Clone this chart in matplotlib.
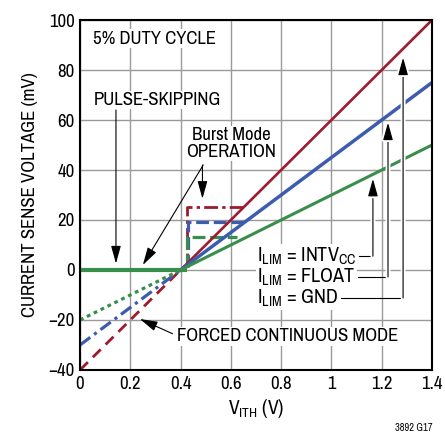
import matplotlib
matplotlib.use("Agg")
import matplotlib.pyplot as plt
import matplotlib.patheffects as pe

FONT = ['Archivo Narrow', 'Liberation Sans', 'DejaVu Sans']
plt.rcParams['font.family'] = FONT
plt.rcParams['mathtext.fontset'] = 'custom'
plt.rcParams['mathtext.rm'] = 'Archivo Narrow'
plt.rcParams['mathtext.it'] = 'Archivo Narrow'

RED = '#9e1b2e'
BLUE = '#3d5cae'
GREEN = '#3a8e4c'

# forced continuous (below 0.4 V) and normal (above) segments
x_lo = [0.0, 0.4]
red_lo = [-40, 0]
blue_lo = [-30, 0]
green_lo = [-20, 0]

x_hi = [0.4, 1.4]
red_hi = [0, 100]
blue_hi = [0, 75]
green_hi = [0, 50]

# pulse skipping flat part
skip_x = [0.0, 0.425]
skip_y = [0, 0]

# burst mode steps
red_burst_x = [0.425, 0.425, 0.655]
red_burst_y = [1, 25, 25]
blue_burst_x = [0.43, 0.43, 0.66]
blue_burst_y = [1, 19, 19]
green_burst_x = [0.425, 0.425, 0.625]
green_burst_y = [1, 13, 13]

xticks = [0, 0.2, 0.4, 0.6, 0.8, 1.0, 1.2, 1.4]
xticklabels = ['0', '0.2', '0.4', '0.6', '0.8', '1', '1.2', '1.4']
yticks = [-40, -20, 0, 20, 40, 60, 80, 100]
yticklabels = ['\u221240', '\u221220', '0', '20', '40', '60', '80', '100']

fig = plt.figure(figsize=(4.45, 4.38), dpi=100)
ax = fig.add_axes([0.1798, 0.1553, 0.791, 0.799])

ax.set_xlim(0, 1.4)
ax.set_ylim(-40, 100)
ax.set_xticks(xticks)
ax.set_xticklabels(xticklabels)
ax.set_yticks(yticks)
ax.set_yticklabels(yticklabels)
ax.tick_params(length=0, labelsize=13.5, pad=4)
ax.grid(True, color='#9a9a9a', lw=1.0)
ax.set_axisbelow(True)
for s in ax.spines.values():
    s.set_linewidth(1.5)
    s.set_zorder(10)

ax.set_xlabel('V$_{\\mathrm{ITH}}$ (V)', fontsize=14, labelpad=4)
ax.set_ylabel('CURRENT SENSE VOLTAGE (mV)', fontsize=13.5, labelpad=7)

# lower (dashed) parts
ax.plot(x_lo, red_lo, color=RED, lw=2, ls=(0, (4, 2.5)), zorder=3)
ax.plot(x_lo, blue_lo, color=BLUE, lw=2.3, ls=(0, (4, 1.5, 1, 1.5)), zorder=3)
ax.plot(x_lo, green_lo, color=GREEN, lw=2.3, ls=(0, (1.2, 1.2)), zorder=3)

# burst steps
ax.plot(red_burst_x, red_burst_y, color=RED, lw=2, ls=(0, (5, 1.5, 1.2, 1.5)), zorder=3)
ax.plot(blue_burst_x, blue_burst_y, color=BLUE, lw=2.3, ls=(0, (4, 1.5)), zorder=3)
ax.plot(green_burst_x, green_burst_y, color=GREEN, lw=2.3, ls=(0, (4, 1.5)), zorder=3)

# upper solid parts
ax.plot(x_hi, red_hi, color=RED, lw=1.9, zorder=4)
ax.plot(x_hi, blue_hi, color=BLUE, lw=2.5, zorder=4)
ax.plot(x_hi, green_hi, color=GREEN, lw=2.2, zorder=4)

ax.plot(skip_x, skip_y, color=GREEN, lw=3, zorder=5, solid_capstyle='butt')

box = dict(facecolor='white', edgecolor='none', pad=1)
tkw = dict(fontsize=13.5, bbox=box, zorder=6)

ax.text(0.052, 92.5, '5% DUTY CYCLE', ha='left', va='center', **tkw)
ax.text(0.055, 68, 'PULSE-SKIPPING', ha='left', va='center', **tkw)
ax.text(0.6, 50.5, 'Burst Mode\nOPERATION', ha='center', va='center',
        linespacing=1.05, **tkw)
ax.text(0.386, -26.5, 'FORCED CONTINUOUS MODE', ha='left', va='center', **tkw)

akw = dict(arrowstyle='-|>,head_length=0.9,head_width=0.25', color='black',
           lw=0.8, mutation_scale=12, shrinkA=0, shrinkB=0)
white = [pe.Stroke(linewidth=3.5, foreground='white'), pe.Normal()]

ax.annotate('', xy=(0.143, 2.6), xytext=(0.143, 64), arrowprops=akw, zorder=7)
ax.annotate('', xy=(0.25, 2.0), xytext=(0.49, 42), arrowprops=akw, zorder=7)
ax.annotate('', xy=(0.487, 28.5), xytext=(0.487, 42), arrowprops=akw, zorder=7)
ax.annotate('', xy=(0.238, -19.6), xytext=(0.368, -25.5), arrowprops=akw, zorder=7)

# I_LIM labels and their elbow arrows
lim_labels = ['I$_{\\mathrm{LIM}}$ = INTV$_{\\mathrm{CC}}$',
              'I$_{\\mathrm{LIM}}$ = FLOAT',
              'I$_{\\mathrm{LIM}}$ = GND']
lim_y = [5.5, -2.8, -11.2]
lim_arrow_x = [1.165, 1.225, 1.285]
lim_tip_y = [36.5, 59, 85]

lim_texts = [ax.text(0.704, y, lab, ha='left', va='center', fontsize=14.5,
                     bbox=box, zorder=6)
             for lab, y in zip(lim_labels, lim_y)]
fig.canvas.draw()
r = fig.canvas.get_renderer()
inv = ax.transData.inverted()

for t, y, xa, yt in zip(lim_texts, lim_y, lim_arrow_x, lim_tip_y):
    xe = inv.transform((t.get_window_extent(r).x1 + 3, 0))[0]
    ax.plot([xe, xa], [y, y], color='black', lw=0.8, zorder=7)
    ann = ax.annotate('', xy=(xa, yt), xytext=(xa, y), arrowprops=akw, zorder=7)
    ann.arrow_patch.set_path_effects(white)

fig.text(0.972, 0.022, '3892 G17', ha='right', va='center', fontsize=7.5)

fig.savefig('out.png', dpi=100)
